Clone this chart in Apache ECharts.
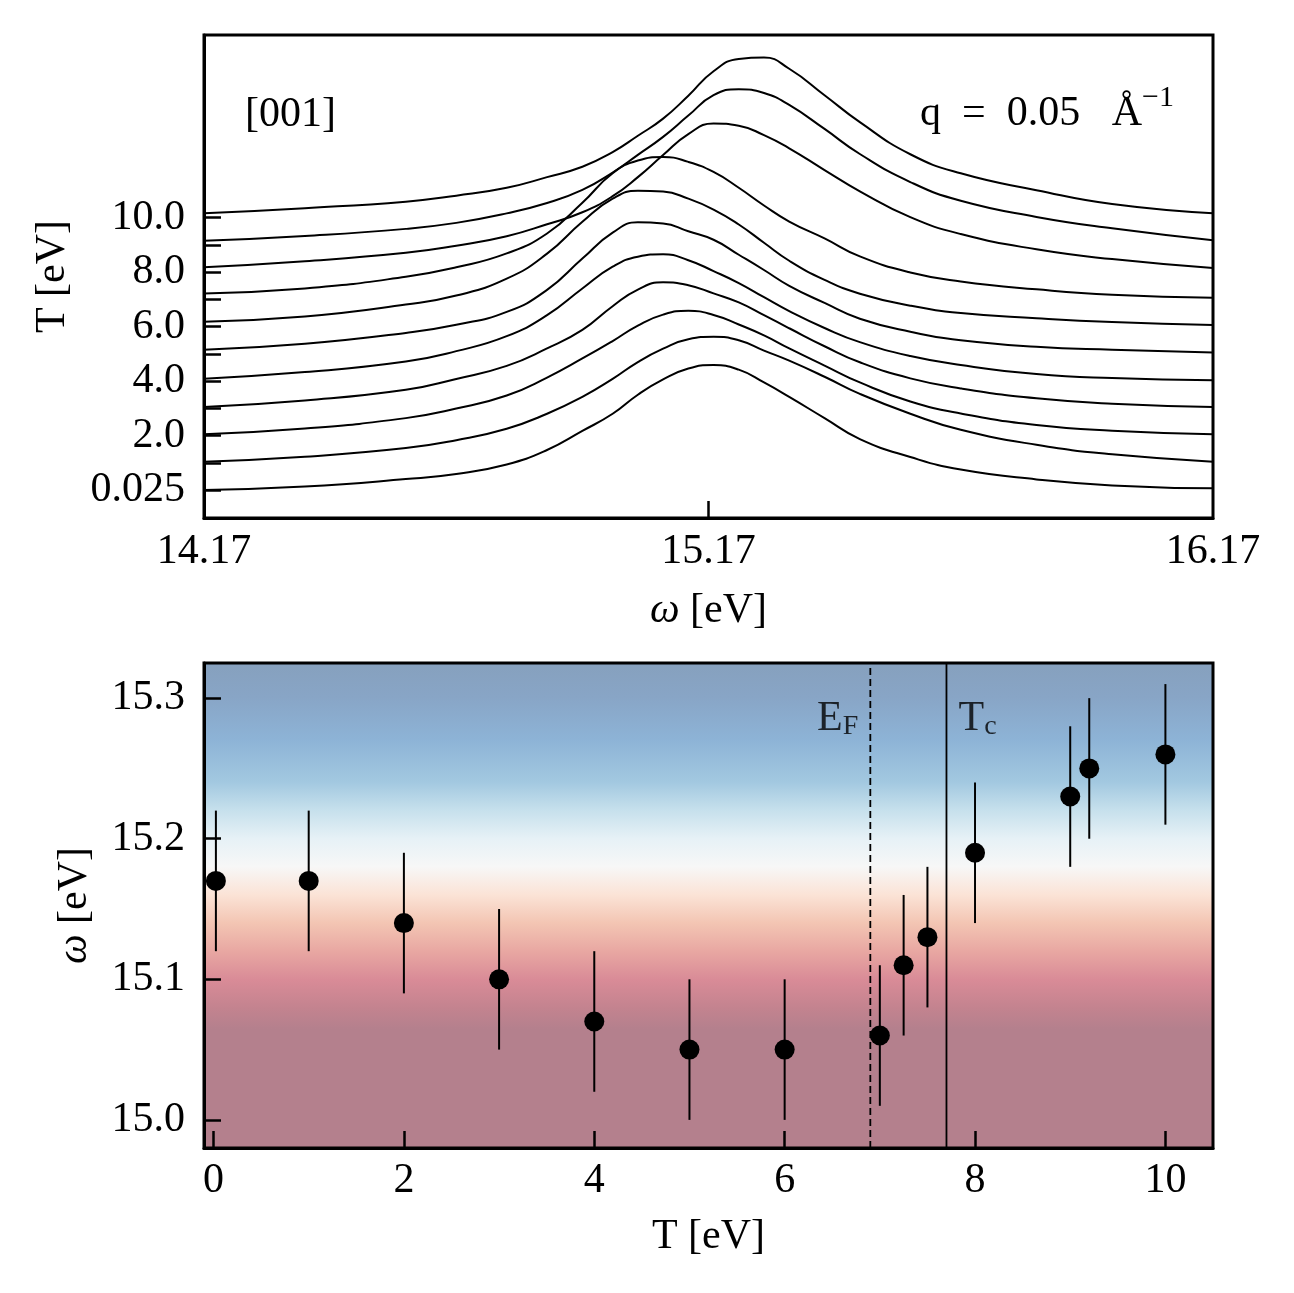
<!DOCTYPE html>
<html><head><meta charset="utf-8">
<script src="https://cdn.jsdelivr.net/npm/echarts@6/dist/echarts.min.js"></script>
<style>html,body{margin:0;padding:0;background:#fff}#c{width:1294px;height:1293px}</style>
</head><body><div id="c"></div>
<script>
// ---------- top panel: spectra (waterfall) ----------
const omegaGrid = [14.17, 14.37, 14.57, 14.67, 14.77, 14.85, 14.92, 14.98, 15.03, 15.08, 15.13, 15.18, 15.23, 15.28, 15.33, 15.40, 15.47, 15.57, 15.67, 15.82, 15.97, 16.17];
const spec_T0025 = [0, 0.13, 0.40, 0.59, 0.94, 1.47, 2.17, 2.80, 3.50, 4.06, 4.46, 4.59, 4.42, 3.95, 3.42, 2.64, 1.87, 1.21, 0.75, 0.39, 0.17, 0.06];
const spec_T1 = [0.04, 0.22, 0.54, 0.83, 1.25, 1.80, 2.42, 3.08, 3.70, 4.19, 4.54, 4.63, 4.50, 4.12, 3.75, 3.16, 2.53, 1.80, 1.21, 0.66, 0.31, 0.04];
const spec_T2 = [0.05, 0.26, 0.64, 0.99, 1.47, 2.13, 2.83, 3.47, 4.04, 4.44, 4.58, 4.43, 4.08, 3.68, 3.20, 2.57, 1.95, 1.25, 0.81, 0.39, 0.18, 0.05];
const spec_T3 = [0.05, 0.29, 0.68, 1.08, 1.56, 2.20, 2.88, 3.75, 4.36, 4.63, 4.52, 4.22, 3.89, 3.42, 2.94, 2.28, 1.69, 1.10, 0.73, 0.37, 0.17, 0.05];
const spec_T4 = [0.09, 0.33, 0.72, 1.10, 1.65, 2.42, 3.40, 4.20, 4.57, 4.66, 4.44, 4.04, 3.60, 3.08, 2.57, 1.95, 1.43, 0.92, 0.59, 0.26, 0.11, 0.03];
const spec_T5 = [0.15, 0.37, 0.77, 1.07, 1.54, 2.35, 3.50, 4.45, 4.83, 4.79, 4.50, 4.19, 3.64, 3.08, 2.50, 1.87, 1.29, 0.81, 0.50, 0.26, 0.15, 0.05];
const spec_T6 = [0.18, 0.37, 0.81, 1.14, 1.76, 2.68, 3.85, 4.70, 4.99, 4.96, 4.70, 4.30, 3.75, 3.08, 2.42, 1.72, 1.21, 0.77, 0.50, 0.31, 0.17, 0.06];
const spec_T7 = [0.22, 0.40, 0.83, 1.18, 1.69, 2.42, 3.55, 4.63, 5.10, 5.23, 5.05, 4.68, 4.10, 3.45, 2.86, 2.24, 1.58, 0.99, 0.66, 0.37, 0.17, 0.06];
const spec_T8 = [0.18, 0.40, 0.71, 0.97, 1.32, 1.76, 2.20, 2.79, 3.49, 4.30, 5.07, 5.46, 5.38, 5.03, 4.55, 3.75, 2.97, 2.02, 1.40, 0.84, 0.48, 0.15];
const spec_T9 = [0.15, 0.33, 0.59, 0.81, 1.16, 1.54, 2.02, 2.66, 3.31, 3.97, 4.75, 5.50, 5.72, 5.58, 5.14, 4.26, 3.34, 2.31, 1.62, 1.03, 0.61, 0.17];
const spec_T10 = [0.16, 0.35, 0.59, 0.81, 1.10, 1.49, 1.87, 2.41, 3.01, 3.64, 4.48, 5.38, 5.83, 5.88, 5.47, 4.50, 3.51, 2.33, 1.63, 1.01, 0.50, 0.16];
const spectra = [spec_T0025, spec_T1, spec_T2, spec_T3, spec_T4, spec_T5, spec_T6, spec_T7, spec_T8, spec_T9, spec_T10];
const curveOffsets = [0, 1, 2, 3, 4, 5, 6, 7, 8, 9, 10];
const topYTickOffsets = [0, 1, 2, 3, 4, 5, 6, 7, 8, 9, 10];
const topYLabelOffsets = [0, 2, 4, 6, 8, 10];
const topYTickLabels = ['0.025', '2.0', '4.0', '6.0', '8.0', '10.0'];
const topXTickValues = [14.17, 15.17, 16.17];
const topXTickLabels = ['14.17', '15.17', '16.17'];

// ---------- bottom panel: peak position vs T ----------
const peakT = [0.025, 1, 2, 3, 4, 5, 6, 7, 7.25, 7.5, 8, 9, 9.2, 10];
const peakOmega = [15.17, 15.17, 15.14, 15.10, 15.07, 15.05, 15.05, 15.06, 15.11, 15.13, 15.19, 15.23, 15.25, 15.26];
const peakErr = [0.05, 0.05, 0.05, 0.05, 0.05, 0.05, 0.05, 0.05, 0.05, 0.05, 0.05, 0.05, 0.05, 0.05];
const botXTicks = [0, 2, 4, 6, 8, 10];
const botXTickLabels = ['0', '2', '4', '6', '8', '10'];
const botYTicks = [15.0, 15.1, 15.2, 15.3];
const botYTickLabels = ['15.0', '15.1', '15.2', '15.3'];
const fermiT = 6.9;
const criticalT = 7.7;
const bgOmega = [15.325, 15.30, 15.27, 15.24, 15.22, 15.20, 15.18, 15.16, 15.14, 15.12, 15.10, 15.08, 15.065, 14.98];
const bgColors = ['#86a0bd', '#88a5c6', '#8db3d6', '#a2c8e0', '#c6e0ec', '#e6f1f6', '#f7f7f7', '#fbe3d6', '#f3c5b3', '#e8a7a2', '#d98b97', '#c3838f', '#b4808d', '#b4808d'];

// ---------- chart ----------
const FONT = '"Liberation Serif", "DejaVu Serif", serif';
const FS = 42;
const topYMin = -1.028, topYMax = 16.71;
const botYMin = 14.98, botYMax = 15.325;
const botXMin = -0.1, botXMax = 10.5;

const chart = echarts.init(document.getElementById('c'), null, {renderer: 'canvas'});

const bgStops = bgOmega.map((w, i) => ({offset: (botYMax - w) / (botYMax - botYMin), color: bgColors[i]}));

const labelStyle = {color: '#000', fontFamily: FONT, fontSize: FS};
const tickStyle = {inside: true, length: 17, lineStyle: {color: '#000', width: 2.5}};

const series = [];
spectra.forEach((s, i) => {
  series.push({
    type: 'line', xAxisIndex: 0, yAxisIndex: 0, smooth: 0.5, showSymbol: false, clip: true,
    lineStyle: {color: '#000', width: 2}, silent: true,
    data: omegaGrid.map((w, k) => [w, s[k] + curveOffsets[i]])
  });
});
// error bars
series.push({
  type: 'custom', xAxisIndex: 1, yAxisIndex: 1, z: 3,
  encode: {x: 0, y: [1, 2]},
  data: peakT.map((t, i) => [t, peakOmega[i] - peakErr[i], peakOmega[i] + peakErr[i]]),
  renderItem: function (params, api) {
    const p1 = api.coord([api.value(0), api.value(1)]);
    const p2 = api.coord([api.value(0), api.value(2)]);
    return {type: 'line', shape: {x1: p1[0], y1: p1[1], x2: p2[0], y2: p2[1]}, style: {stroke: '#000', lineWidth: 2}};
  }
});
series.push({
  type: 'scatter', xAxisIndex: 1, yAxisIndex: 1, z: 4, symbolSize: 20,
  itemStyle: {color: '#000', opacity: 1},
  data: peakT.map((t, i) => [t, peakOmega[i]])
});
// E_F and T_c vertical lines
series.push({
  type: 'line', xAxisIndex: 1, yAxisIndex: 1, showSymbol: false, z: 2,
  lineStyle: {color: '#000', width: 1.8, type: [7, 4]},
  data: [[fermiT, botYMin], [fermiT, botYMax]]
});
series.push({
  type: 'line', xAxisIndex: 1, yAxisIndex: 1, showSymbol: false, z: 2,
  lineStyle: {color: '#000', width: 1.8},
  data: [[criticalT, botYMin], [criticalT, botYMax]]
});
const subRich = {
  m: {fontFamily: FONT, fontSize: FS, color: '#000', lineHeight: 42},
  s: {fontFamily: FONT, fontSize: 28, color: '#000', lineHeight: 18, verticalAlign: 'bottom'}
};
series.push({
  type: 'scatter', xAxisIndex: 1, yAxisIndex: 1, symbolSize: 0, z: 5,
  data: [[fermiT, 15.285]],
  label: {show: true, position: 'left', distance: 12, formatter: '{m|E}{s|F}', rich: subRich}
});
series.push({
  type: 'scatter', xAxisIndex: 1, yAxisIndex: 1, symbolSize: 0, z: 5,
  data: [[criticalT, 15.285]],
  label: {show: true, position: 'right', distance: 12, formatter: '{m|T}{s|c}', rich: subRich}
});

const option = {
  animation: false,
  backgroundColor: '#fff',
  grid: [
    {left: 204, top: 35, width: 1009, height: 483, show: true, backgroundColor: '#fff', borderColor: '#000', borderWidth: 3, containLabel: false},
    {left: 204, top: 663, width: 1009, height: 485, show: true, borderColor: '#000', borderWidth: 3, containLabel: false,
     backgroundColor: new echarts.graphic.LinearGradient(0, 0, 0, 1, bgStops)}
  ],
  xAxis: [
    {type: 'value', gridIndex: 0, min: 14.17, max: 16.17,
     axisLine: {show: true, onZero: false, lineStyle: {color: '#000', width: 3}},
     axisTick: Object.assign({customValues: [15.17]}, tickStyle),
     axisLabel: Object.assign({customValues: topXTickValues, margin: 13, showMinLabel: true, showMaxLabel: true,
       formatter: v => topXTickLabels[topXTickValues.findIndex(t => Math.abs(t - v) < 1e-6)] || ''}, labelStyle),
     splitLine: {show: false},
     name: '{i|ω} [eV]', nameLocation: 'middle', nameGap: 72,
     nameTextStyle: {fontFamily: FONT, fontSize: FS, color: '#000', rich: {i: {fontFamily: FONT, fontSize: FS, fontStyle: 'italic', color: '#000'}}}},
    {type: 'value', gridIndex: 1, min: botXMin, max: botXMax,
     axisLine: {show: true, onZero: false, lineStyle: {color: '#000', width: 3}},
     axisTick: Object.assign({customValues: botXTicks}, tickStyle),
     axisLabel: Object.assign({customValues: botXTicks, margin: 12,
       formatter: v => botXTickLabels[botXTicks.findIndex(t => Math.abs(t - v) < 1e-6)] || ''}, labelStyle),
     splitLine: {show: false},
     name: 'T [eV]', nameLocation: 'middle', nameGap: 68,
     nameTextStyle: {fontFamily: FONT, fontSize: FS, color: '#000'}}
  ],
  yAxis: [
    {type: 'value', gridIndex: 0, min: topYMin, max: topYMax,
     axisLine: {show: true, onZero: false, lineStyle: {color: '#000', width: 3}},
     axisTick: Object.assign({customValues: topYTickOffsets}, tickStyle),
     axisLabel: Object.assign({customValues: topYLabelOffsets, margin: 19,
       formatter: v => topYTickLabels[topYLabelOffsets.findIndex(t => Math.abs(t - v) < 1e-6)] || ''}, labelStyle),
     splitLine: {show: false},
     name: 'T [eV]', nameLocation: 'middle', nameGap: 130,
     nameTextStyle: {fontFamily: FONT, fontSize: FS, color: '#000'}},
    {type: 'value', gridIndex: 1, min: botYMin, max: botYMax,
     axisLine: {show: true, onZero: false, lineStyle: {color: '#000', width: 3}},
     axisTick: Object.assign({customValues: botYTicks}, tickStyle),
     axisLabel: Object.assign({customValues: botYTicks, margin: 19,
       formatter: v => botYTickLabels[botYTicks.findIndex(t => Math.abs(t - v) < 1e-6)] || ''}, labelStyle),
     splitLine: {show: false},
     name: '{i|ω} [eV]', nameLocation: 'middle', nameGap: 108,
     nameTextStyle: {fontFamily: FONT, fontSize: FS, color: '#000', rich: {i: {fontFamily: FONT, fontSize: FS, fontStyle: 'italic', color: '#000'}}}}
  ],
  graphic: [
    {type: 'text', left: 245, top: 94, z: 10,
     style: {text: '[001]', font: '42px ' + FONT, fill: '#000'}},
    {type: 'text', left: 920, top: 83, z: 10,
     style: {text: '{m|q  =  0.05   Å}{s|−1}', fill: '#000',
       rich: {m: {fontFamily: FONT, fontSize: FS, fill: '#000', lineHeight: 52, verticalAlign: 'bottom'},
              s: {fontFamily: FONT, fontSize: 30, fill: '#000', lineHeight: 30, verticalAlign: 'top'}}}}
  ],
  series: series
};
chart.setOption(option);
</script>
</body></html>
